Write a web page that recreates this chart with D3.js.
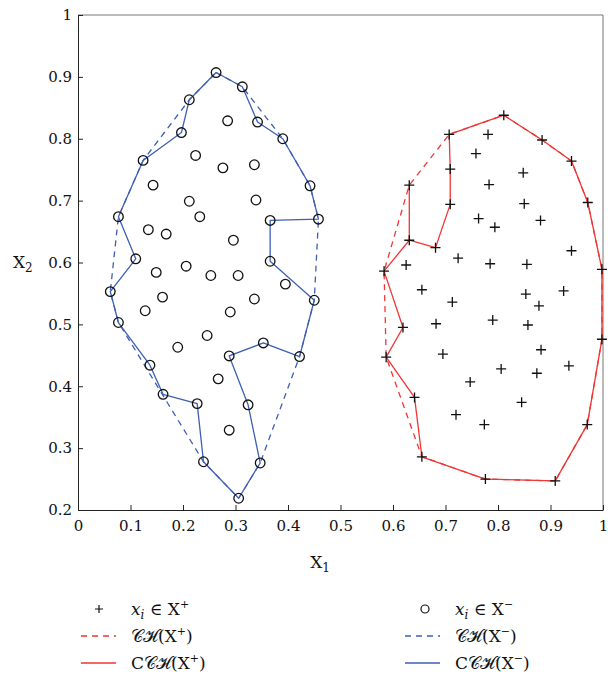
<!DOCTYPE html>
<html>
<head>
<meta charset="utf-8">
<script src="https://cdn.jsdelivr.net/npm/d3@7"></script>
<style>
  body { margin: 0; background: #fff; }
  svg text { font-family: "DejaVu Serif", "Liberation Serif", serif; fill: #111; }
</style>
</head>
<body>
<svg id="vis" width="608" height="677"></svg>
<script>
// X- samples (circles)
const negX = [0.263,0.313,0.212,0.285,0.342,0.197,0.390,0.124,0.224,0.276,0.336,0.143,0.442,0.212,0.339,0.077,0.232,0.366,0.458,0.134,
  0.168,0.296,0.110,0.149,0.206,0.253,0.305,0.366,0.395,0.0615,0.161,0.336,0.450,0.077,0.128,0.290,0.246,0.190,0.288,0.353,
  0.422,0.137,0.267,0.162,0.227,0.324,0.288,0.239,0.347,0.306];
const negY = [0.907,0.884,0.863,0.829,0.827,0.810,0.800,0.765,0.773,0.753,0.758,0.725,0.724,0.699,0.701,0.674,0.674,0.668,0.670,0.653,
  0.646,0.636,0.606,0.584,0.594,0.579,0.579,0.602,0.565,0.553,0.544,0.541,0.539,0.503,0.522,0.520,0.482,0.463,0.449,0.470,
  0.448,0.434,0.412,0.387,0.372,0.370,0.329,0.278,0.276,0.219];

// X+ samples (plus signs)
const posX = [0.811,0.781,0.707,0.884,0.758,0.940,0.709,0.848,0.631,0.783,0.709,0.850,0.971,0.763,0.794,0.881,0.631,0.681,0.724,0.583,
  0.625,0.785,0.855,0.940,0.998,0.655,0.853,0.925,0.713,0.878,0.619,0.682,0.790,0.857,0.998,0.882,0.587,0.695,0.806,0.874,
  0.935,0.747,0.641,0.845,0.720,0.774,0.970,0.655,0.776,0.909];
const posY = [0.838,0.807,0.807,0.798,0.776,0.764,0.751,0.745,0.725,0.726,0.694,0.695,0.697,0.671,0.657,0.668,0.636,0.624,0.607,0.586,
  0.596,0.598,0.597,0.619,0.589,0.556,0.549,0.554,0.536,0.530,0.495,0.501,0.507,0.499,0.476,0.459,0.447,0.452,0.428,0.421,
  0.433,0.407,0.382,0.374,0.354,0.338,0.338,0.286,0.250,0.247];

// hull vertex orders (indices into the sample arrays)
const negConvex = [0,1,6,12,18,32,40,48,49,47,33,29,15,7,2,0];
const negConcave = [0,1,4,6,12,18,17,27,32,40,39,38,45,48,49,47,44,43,41,33,29,22,15,7,5,2,0];
const posConvex = [0,3,5,12,24,34,46,49,48,47,36,19,8,2,0];
const posConcave = [0,3,5,12,24,34,46,49,48,47,42,36,30,19,16,8,16,17,10,6,2,0];

const xTicks = [0,0.1,0.2,0.3,0.4,0.5,0.6,0.7,0.8,0.9,1];
const yTicks = [0.2,0.3,0.4,0.5,0.6,0.7,0.8,0.9,1];

const red = '#f03535';
const blue = '#3d5fb4';

const vis = d3.select('#vis');

const x = d3.scaleLinear().domain([0, 1]).range([78, 603]);
const y = d3.scaleLinear().domain([0.2, 1]).range([510, 15]);

const neg = negX.map((v, i) => [v, negY[i]]);
const pos = posX.map((v, i) => [v, posY[i]]);

// frame: top and right edges are lighter in the original
vis.append('path')
  .attr('d', `M${x(0)},${y(1)}H${x(1)}V${y(0.2)}`)
  .attr('fill', 'none').attr('stroke', '#777').attr('stroke-width', 1);

const xAxis = vis.append('g')
  .attr('transform', `translate(0,${y(0.2)})`)
  .call(d3.axisBottom(x).tickValues(xTicks).tickSizeInner(-5).tickSizeOuter(0).tickPadding(10)
    .tickFormat(d => d3.format('')(d)));
const yAxis = vis.append('g')
  .attr('transform', `translate(${x(0)},0)`)
  .call(d3.axisLeft(y).tickValues(yTicks).tickSizeInner(-5).tickSizeOuter(0).tickPadding(6)
    .tickFormat(d => d3.format('')(d)));

[xAxis, yAxis].forEach(g => {
  g.select('.domain').attr('stroke', '#222');
  g.selectAll('.tick line').attr('stroke', '#222');
  g.selectAll('.tick text').attr('font-size', 15).attr('font-family', '"DejaVu Serif", serif').attr('fill', '#222');
});

vis.append('text').attr('x', 320).attr('y', 568).attr('font-size', 17).attr('text-anchor', 'middle')
  .text('X').append('tspan').attr('font-size', 12).attr('dy', 4).text('1');
vis.append('text').attr('x', 13).attr('y', 268).attr('font-size', 17)
  .text('X').append('tspan').attr('font-size', 12).attr('dy', 4).text('2');

const line = d3.line().x(d => x(d[0])).y(d => y(d[1]));

function hull(points, order, colour, dashed) {
  vis.append('path')
    .datum(order.map(i => points[i]))
    .attr('d', line)
    .attr('fill', 'none')
    .attr('stroke', colour)
    .attr('stroke-width', 1.3)
    .attr('stroke-dasharray', dashed ? '6,5' : null)
    .attr('stroke-linejoin', 'round');
}

hull(neg, negConvex, blue, true);
hull(pos, posConvex, red, true);
hull(neg, negConcave, blue, false);
hull(pos, posConcave, red, false);

vis.selectAll('circle.neg').data(neg)
  .enter()
  .append('circle')
    .classed('neg', true)
    .attr('cx', d => x(d[0]))
    .attr('cy', d => y(d[1]))
    .attr('r', 4.8)
    .attr('fill', 'none')
    .attr('stroke', '#111')
    .attr('stroke-width', 1.3);

vis.selectAll('path.pos').data(pos)
  .enter()
  .append('path')
    .classed('pos', true)
    .attr('transform', d => `translate(${x(d[0])},${y(d[1])})`)
    .attr('d', 'M-5,0H5M0,-5V5')
    .attr('stroke', '#111')
    .attr('stroke-width', 1.3);

// legend
const legend = vis.append('g');
const entries = [
  { col: 0, row: 0, mark: 'plus', sign: '+', label: 'pt' },
  { col: 1, row: 0, mark: 'circle', sign: '\u2212', label: 'pt' },
  { col: 0, row: 1, mark: 'dash', colour: red, sign: '+', label: 'ch' },
  { col: 1, row: 1, mark: 'dash', colour: blue, sign: '\u2212', label: 'ch' },
  { col: 0, row: 2, mark: 'solid', colour: red, sign: '+', label: 'cch' },
  { col: 1, row: 2, mark: 'solid', colour: blue, sign: '\u2212', label: 'cch' }
];
const colX = [81, 405];
const rowY = [609, 636, 663];

entries.forEach(e => {
  const lx = colX[e.col], ly = rowY[e.row];
  if (e.mark === 'plus') {
    legend.append('path').attr('d', `M${lx + 14},${ly}h8M${lx + 18},${ly - 4}v8`).attr('stroke', '#111').attr('stroke-width', 1.2);
  } else if (e.mark === 'circle') {
    legend.append('circle').attr('cx', lx + 20).attr('cy', ly).attr('r', 4).attr('fill', 'none').attr('stroke', '#111').attr('stroke-width', 1.2);
  } else {
    legend.append('line').attr('x1', lx).attr('x2', lx + 35).attr('y1', ly).attr('y2', ly)
      .attr('stroke', e.colour).attr('stroke-width', 1.3)
      .attr('stroke-dasharray', e.mark === 'dash' ? '6,5' : null);
  }
  const t = legend.append('text').attr('x', lx + 50).attr('y', ly + 6).attr('font-size', 17);
  if (e.label === 'pt') {
    t.append('tspan').attr('font-style', 'italic').text('x');
    t.append('tspan').attr('font-style', 'italic').attr('font-size', 12).attr('dy', 4).text('i');
    t.append('tspan').attr('dy', -4).text(' \u2208 X');
  } else {
    t.text(e.label === 'cch' ? 'C\uD835\uDC9E\u210B(X' : '\uD835\uDC9E\u210B(X');
  }
  t.append('tspan').attr('font-size', 11).attr('dy', -7).text(e.sign);
  if (e.label !== 'pt') t.append('tspan').attr('dy', 7).text(')');
});
</script>
</body>
</html>
